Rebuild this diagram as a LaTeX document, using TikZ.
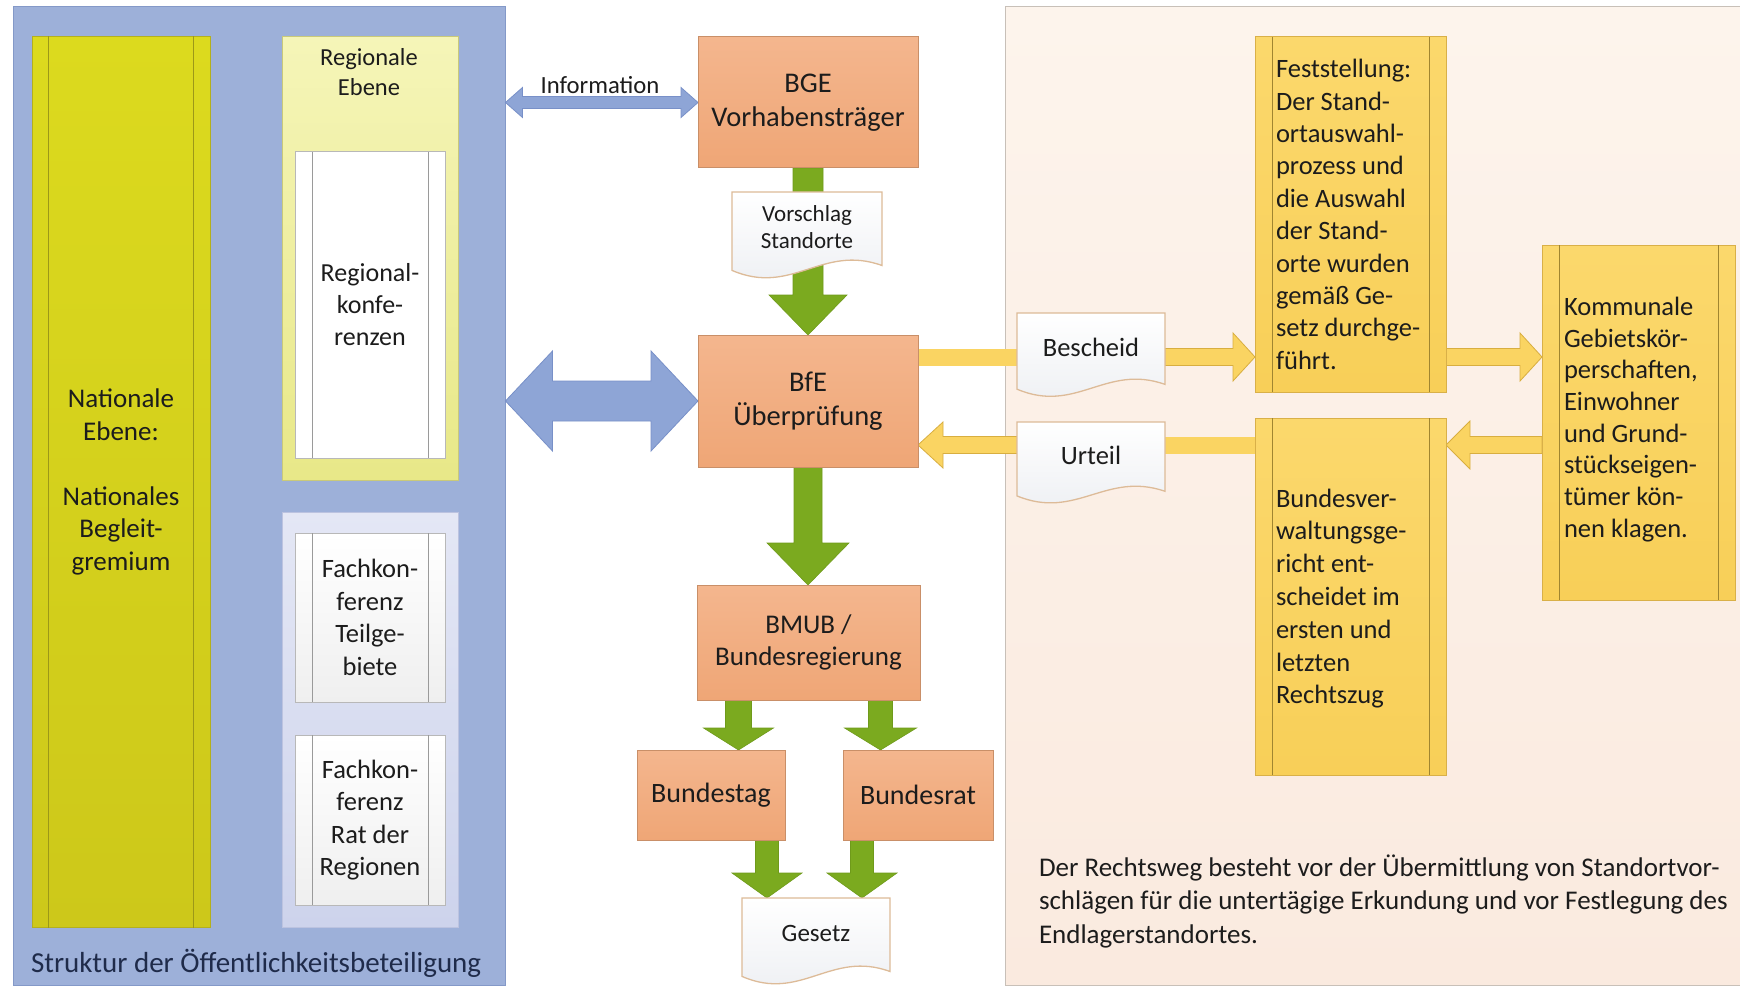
\documentclass[tikz,border=0pt]{standalone}
\usepackage{fontspec}
\setmainfont{Carlito}
\usetikzlibrary{calc}
\pgfdeclarelayer{bg}\pgfdeclarelayer{mid}
\pgfsetlayers{bg,mid,main}

\definecolor{panelblue}{HTML}{9DB0D9}
\definecolor{panelline}{HTML}{8499C8}
\definecolor{peachtop}{HTML}{FDF4EC}
\definecolor{peachbot}{HTML}{FAEADF}
\definecolor{peachline}{HTML}{C8C0B8}
\definecolor{natop}{HTML}{DCDA1E}
\definecolor{natbot}{HTML}{CDC81A}
\definecolor{natline}{HTML}{B4B01C}
\definecolor{natbar}{HTML}{9C9818}
\definecolor{regtop}{HTML}{F5F5B8}
\definecolor{regbot}{HTML}{E8E888}
\definecolor{regline}{HTML}{C9C97A}
\definecolor{lavtop}{HTML}{E4E7F5}
\definecolor{lavbot}{HTML}{CDD3EC}
\definecolor{lavline}{HTML}{BCC3E0}
\definecolor{wbot}{HTML}{EFEFEF}
\definecolor{greyline}{HTML}{B8B8B8}
\definecolor{greybar}{HTML}{9A9A9A}
\definecolor{orangetop}{HTML}{F4B68E}
\definecolor{orangebot}{HTML}{EFA676}
\definecolor{orangeline}{HTML}{C98F68}
\definecolor{arrgreen}{HTML}{7BAA1F}
\definecolor{arrgreenline}{HTML}{6F9A1B}
\definecolor{arrblue}{HTML}{8EA5D6}
\definecolor{arrblueline}{HTML}{7890C8}
\definecolor{arryellow}{HTML}{FAD462}
\definecolor{arryline}{HTML}{D8AE40}
\definecolor{ytop}{HTML}{FBD86C}
\definecolor{ybot}{HTML}{F8CF58}
\definecolor{yline}{HTML}{D9B048}
\definecolor{ybarcol}{HTML}{A08530}
\definecolor{txt}{HTML}{1C1C1C}
\definecolor{structcol}{HTML}{1F2B4A}
\definecolor{docline}{HTML}{DDBB98}
\definecolor{docbot}{HTML}{ECEEF2}

\newcommand\fs[2]{\fontsize{#1}{#2}\selectfont}

% arrow macros: from #1 to #2, shaft half #3, head half #4, head length #5, style #6
\newcommand\arrowR[6]{%
 \path[#6] let \p1=(#1), \p2=(#2) in
 (\x1,\y1+#3) -- (\x2-#5,\y1+#3) -- (\x2-#5,\y1+#4) -- (\x2,\y1) -- (\x2-#5,\y1-#4) -- (\x2-#5,\y1-#3) -- (\x1,\y1-#3) -- cycle;}
\newcommand\arrowL[6]{%
 \path[#6] let \p1=(#1), \p2=(#2) in
 (\x1,\y1+#3) -- (\x2+#5,\y1+#3) -- (\x2+#5,\y1+#4) -- (\x2,\y1) -- (\x2+#5,\y1-#4) -- (\x2+#5,\y1-#3) -- (\x1,\y1-#3) -- cycle;}
\newcommand\arrowD[6]{%
 \path[#6] let \p1=(#1), \p2=(#2) in
 (\x1,\y1) -- (\x1+#5,\y1+#4) -- (\x1+#5,\y1+#3) -- (\x2-#5,\y1+#3) -- (\x2-#5,\y1+#4) -- (\x2,\y1) -- (\x2-#5,\y1-#4) -- (\x2-#5,\y1-#3) -- (\x1+#5,\y1-#3) -- (\x1+#5,\y1-#4) -- cycle;}
\newcommand\arrowDown[6]{%
 \path[#6] let \p1=(#1), \p2=(#2) in
 (\x1-#3,\y1) -- (\x1+#3,\y1) -- (\x1+#3,\y2+#5) -- (\x1+#4,\y2+#5) -- (\x1,\y2) -- (\x1-#4,\y2+#5) -- (\x1-#3,\y2+#5) -- cycle;}
% document outline around a node
\newcommand\docoutline[1]{%
 \path[docfill] let \p1=(#1.north west), \p2=(#1.south east), \n1={\x2-\x1}, \n2={\y1-\y2} in
 (\x1,\y1) -- (\x2,\y1) -- (\x2,{\y1-1.05*\n2}) .. controls ({\x1+0.6*\n1},{\y1-0.74*\n2}) and ({\x1+0.4*\n1},{\y1-1.49*\n2}) .. (\x1,{\y1-1.12*\n2}) -- cycle;}
% inner side bars
\newcommand\sidebars[2]{%
 \draw[#2] ($(#1.north west)+(17,0)$) -- ($(#1.south west)+(17,0)$);
 \draw[#2] ($(#1.north east)+(-17,0)$) -- ($(#1.south east)+(-17,0)$);}

\tikzset{
 lbl/.style={inner sep=0,outer sep=0,align=center,text=txt},
 obox/.style={draw=orangeline,line width=1pt,top color=orangetop,bottom color=orangebot,inner sep=0,outer sep=0,align=center,text=txt},
 ybox/.style={draw=yline,line width=1pt,top color=ytop,bottom color=ybot,inner sep=0,outer sep=0},
 wbox/.style={draw=greyline,line width=1pt,top color=white,bottom color=wbot,inner sep=0,outer sep=0,align=center,text=txt},
 docnode/.style={inner sep=0,outer sep=0,align=center,text=txt},
 docfill/.style={draw=docline,line width=1.3pt,top color=white,bottom color=docbot},
 greenarr/.style={fill=arrgreen,draw=arrgreenline,line width=0.6pt},
 bluearr/.style={fill=arrblue,draw=arrblueline,line width=0.8pt},
 yarr/.style={fill=arryellow,draw=arryline,line width=0.8pt},
 yellowbar/.style={draw=arryellow,line width=17pt},
 bar/.style={line width=1pt}
}

\begin{document}
\begin{tikzpicture}[x=1pt,y=-1pt,font=\fs{26.5}{32.4},text=txt]
\useasboundingbox (0,0) rectangle (1740,987);

\begin{pgfonlayer}{bg}
\fill[white] (0,0) rectangle (1740,987);
\node[fill=panelblue,draw=panelline,line width=1pt,minimum width=492,minimum height=978,inner sep=0] (panel) at (259,496) {};
\node[top color=peachtop,bottom color=peachbot,draw=peachline,line width=1pt,minimum width=740,minimum height=978,inner sep=0] (peach) at (1375,496) {};
\end{pgfonlayer}

% left structure
\node[top color=natop,bottom color=natbot,draw=natline,line width=1pt,minimum width=178,minimum height=890,inner sep=0,align=center,font=\fs{27}{32.5}] (nat) at (121,482)
 {Nationale\\Ebene:\\\mbox{}\\Nationales\\Begleit-\\gremium};
\sidebars{nat}{natbar,bar}

\node[top color=regtop,bottom color=regbot,draw=regline,line width=1pt,minimum width=176,minimum height=443,inner sep=0] (regE) at (370,258.5) {};
\node[lbl,font=\fs{24.5}{30}] (regEtxt) at (369,72) {Regionale\\Ebene};
\node[wbox,bottom color=white,minimum width=150,minimum height=306,font=\fs{26}{32}] (regK) at (370,305) {Regional-\\konfe-\\renzen};
\sidebars{regK}{greybar,bar}

\node[top color=lavtop,bottom color=lavbot,draw=lavline,line width=1pt,minimum width=176,minimum height=415,inner sep=0] (fach) at (370,719.5) {};
\node[wbox,minimum width=150,minimum height=169,font=\fs{26.5}{32.5}] (fk1) at (370,617.5) {Fachkon-\\ferenz\\Teilge-\\biete};
\sidebars{fk1}{greybar,bar}
\node[wbox,minimum width=150,minimum height=170,font=\fs{26.5}{32.5}] (fk2) at (370,820) {Fachkon-\\ferenz\\Rat der\\Regionen};
\sidebars{fk2}{greybar,bar}

\node[lbl,anchor=west,text=structcol,font=\fs{29}{35}] (struct) at (31,963) {Struktur der Öffentlichkeitsbeteiligung};

% middle flow
\node[lbl,font=\fs{24.7}{30}] (info) at (600,85) {Information};
\node[obox,minimum width=220,minimum height=131,font=\fs{28.5}{34}] (bge) at (808,102.5) {BGE\\Vorhabensträger};
\node[obox,minimum width=220,minimum height=132,font=\fs{28.5}{34}] (bfe) at (808,401) {BfE\\Überprüfung};
\node[obox,minimum width=223,minimum height=115,font=\fs{27}{32}] (bmub) at (808.5,642.5) {BMUB /\\Bundesregierung};
\node[obox,minimum width=148,minimum height=90,font=\fs{28}{34}] (btag) at (711,795) {Bundestag};
\node[obox,minimum width=150,minimum height=90,font=\fs{28}{34}] (brat) at (918,795) {Bundesrat};

\node[docnode,minimum width=150,minimum height=70,font=\fs{23}{27}] (vor) at (807,227) {Vorschlag\\Standorte};
\node[docnode,minimum width=148,minimum height=70,font=\fs{25}{30}] (ges) at (816,933) {Gesetz};
\node[docnode,minimum width=148,minimum height=68,font=\fs{26.5}{32}] (bes) at (1091,347) {Bescheid};
\node[docnode,minimum width=148,minimum height=66,font=\fs{26.5}{32}] (urt) at (1091,455) {Urteil};

% right side
\node[ybox,minimum width=191,minimum height=355] (fest) at (1350.5,214.5) {};
\sidebars{fest}{ybarcol,bar}
\node[lbl,anchor=west,align=left,font=\fs{26.5}{32.4}] (festtxt) at ($(fest.west)+(21,0)$)
 {Feststellung:\\Der Stand-\\ortauswahl-\\prozess und\\die Auswahl\\der Stand-\\orte wurden\\gemäß Ge-\\setz durchge-\\führt.};
\node[ybox,minimum width=191,minimum height=357] (bvg) at (1350.5,596.5) {};
\sidebars{bvg}{ybarcol,bar}
\node[lbl,anchor=west,align=left,font=\fs{26.5}{32.8}] (bvgtxt) at ($(bvg.west)+(21,2)$)
 {Bundesver-\\waltungsge-\\richt ent-\\scheidet im\\ersten und\\letzten\\Rechtszug};
\node[ybox,minimum width=193,minimum height=355] (komm) at (1638.5,422.5) {};
\sidebars{komm}{ybarcol,bar}
\node[lbl,anchor=west,align=left,font=\fs{26.5}{31.7}] (kommtxt) at ($(komm.west)+(22,-3)$)
 {Kommunale\\Gebietskör-\\perschaften,\\Einwohner\\und Grund-\\stückseigen-\\tümer kön-\\nen klagen.};

\node[lbl,anchor=west,align=left,font=\fs{27}{33.5}] (note) at (1039,901)
 {Der Rechtsweg besteht vor der Übermittlung von Standortvor-\\schlägen für die untertägige Erkundung und vor Festlegung des\\Endlagerstandortes.};

% connectors
\begin{pgfonlayer}{mid}
\arrowD{panel.east |- bge.west}{bge.west}{6pt}{15pt}{17pt}{bluearr}
\arrowD{panel.east |- bfe.west}{bfe.west}{20pt}{50pt}{47pt}{bluearr}

\arrowDown{bge.south}{bfe.north}{15pt}{39pt}{40pt}{greenarr}
\arrowDown{bfe.south}{bmub.north}{14pt}{41pt}{42pt}{greenarr}
\arrowDown{$(bmub.south)+(-70,0)$}{btag.north}{13pt}{35pt}{22pt}{greenarr}
\arrowDown{$(bmub.south)+(72,0)$}{brat.north}{12pt}{36pt}{22pt}{greenarr}
\arrowDown{$(btag.south)+(56,0)$}{ges.north}{11.5pt}{35pt}{25pt}{greenarr}
\arrowDown{$(brat.south)+(-56,0)$}{ges.north}{11.5pt}{35pt}{25pt}{greenarr}

\coordinate (yu) at ($(bfe.east)+(0,-44)$);
\coordinate (yl) at ($(bfe.east)+(0,44)$);
\draw[yellowbar] (yu) -- (bes.center |- yu);
\arrowR{bes.east |- yu}{fest.west |- yu}{8.5pt}{24pt}{22pt}{yarr}
\arrowR{fest.east |- yu}{komm.west |- yu}{8.5pt}{24pt}{22pt}{yarr}
\arrowL{komm.west |- yl}{bvg.east |- yl}{8.5pt}{24pt}{24pt}{yarr}
\draw[yellowbar] (bvg.west |- yl) -- (urt.center |- yl);
\arrowL{urt.center |- yl}{bfe.east |- yl}{8.5pt}{23pt}{25pt}{yarr}

\docoutline{vor}
\docoutline{ges}
\docoutline{bes}
\docoutline{urt}
\end{pgfonlayer}
\end{tikzpicture}
\end{document}
